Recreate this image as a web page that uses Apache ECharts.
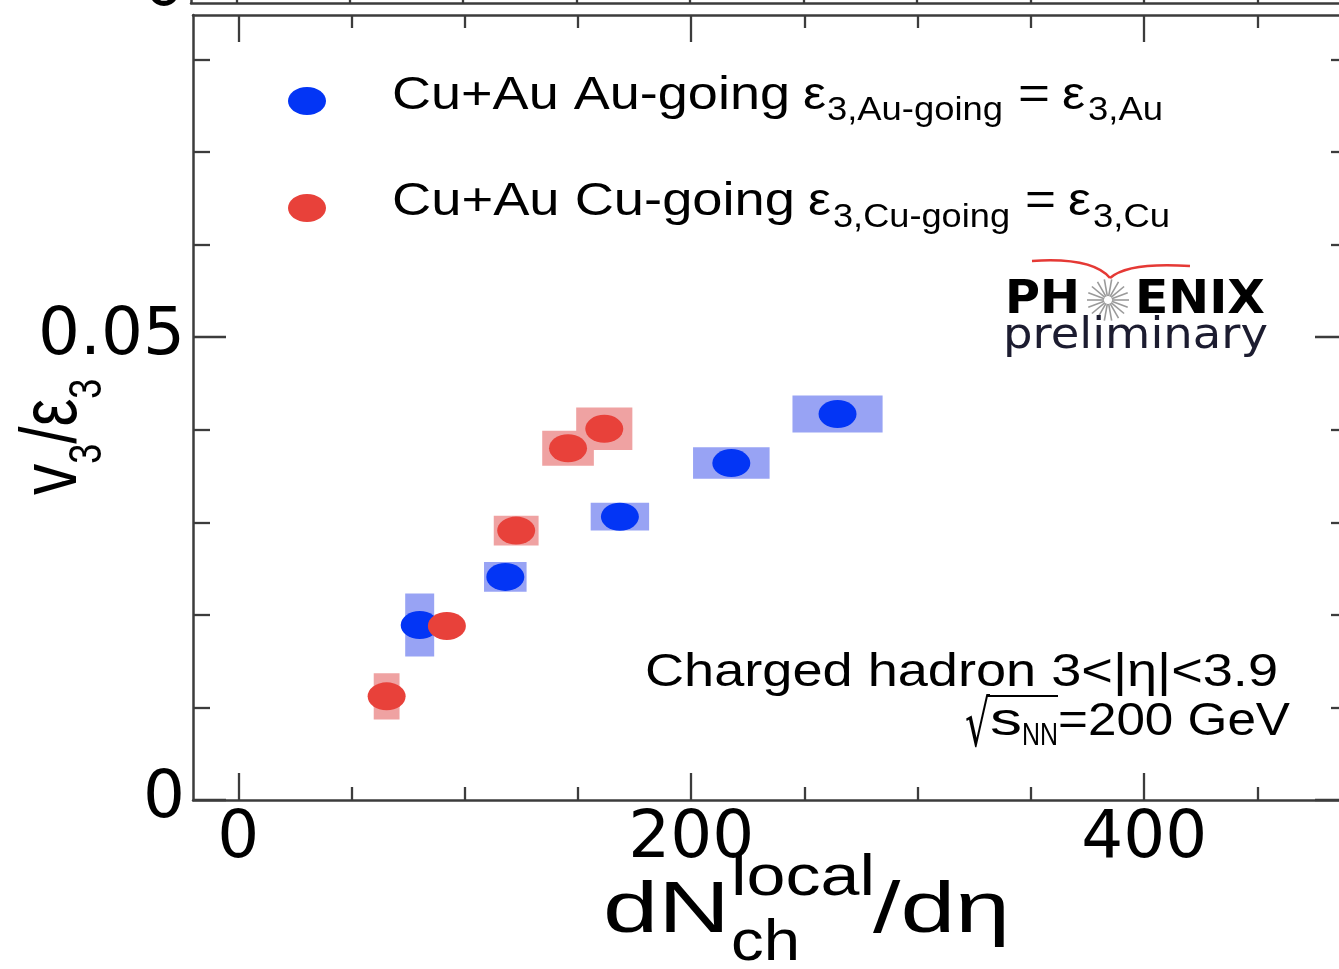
<!DOCTYPE html>
<html><head><meta charset="utf-8">
<script src="https://cdn.jsdelivr.net/npm/echarts@6/dist/echarts.min.js"></script>
<style>html,body{margin:0;padding:0;background:#fff}#c{width:1339px;height:969px}</style>
</head><body><div id="c"></div>
<script>
// ---- data ----
const auX    = [80.1, 117.9, 168.5, 217.7, 264.6];
const auY    = [0.0189, 0.0241, 0.0306, 0.0364, 0.0417];
const auXsys = [6.4, 9.4, 12.9, 16.9, 19.9];
const auYsys = [0.0034, 0.0016, 0.0015, 0.0017, 0.0020];
const cuX    = [65.5, 92.1, 122.7, 145.6, 161.6];
const cuY    = [0.0112, 0.0188, 0.0291, 0.0380, 0.0401];
const cuXsys = [5.7, 5.0, 9.9, 11.4, 12.4];
const cuYsys = [0.0025, 0.0008, 0.0016, 0.0019, 0.0023];
const xMajorTicks = [0, 200, 400];
const xMinorTicks = [50, 100, 150, 250, 300, 350, 450];
const yMajorTicks = [0, 0.05];
const yMinorTicks = [0.01, 0.02, 0.03, 0.04, 0.06, 0.07, 0.08];
const xRange = [-20, 490];
const yRange = [0, 0.0848];

const AXC = '#3c3c3c';
const BLUE = '#0335f5', RED = '#e8413a';
const BLUE_BOX = '#98a3f4', RED_BOX = '#efa2a2';

const mctx = document.createElement('canvas').getContext('2d');
function mw(text, size, family, weight) {
  mctx.font = (weight || 'normal') + ' ' + size + 'px ' + family;
  return mctx.measureText(text).width;
}
function fitText(text, left, right, y, size, family, weight, fill) {
  family = family || 'Liberation Sans';
  const w = mw(text, size, family, weight);
  return {type: 'text', x: left, y: y, scaleX: (right - left) / w, silent: true,
    style: {text: text, fontSize: size, fontFamily: family, fontWeight: weight || 'normal',
      fill: fill || '#000', align: 'left', verticalAlign: 'middle'}};
}
function plainText(text, x, y, size, family, weight, fill, align) {
  return {type: 'text', x: x, y: y, silent: true,
    style: {text: text, fontSize: size, fontFamily: family || 'Liberation Sans', fontWeight: weight || 'normal',
      fill: fill || '#000', align: align || 'left', verticalAlign: 'middle'}};
}

// y-axis title pieces (local frame, rotated)
function yTitle() {
  const F = 80, S = 46, fam = 'Liberation Sans';
  const kids = [];
  let x = 0;
  const main = (t) => { kids.push(plainText(t, x, -0.3465 * F, F, fam)); x += mw(t, F, fam); };
  const sub = (t) => { kids.push(plainText(t, x, 22 - 0.3465 * S, S, fam)); x += mw(t, S, fam); };
  main('v'); sub('3'); main('/'); main('ε'); sub('3');
  return {type: 'group', x: 82, y: 495, rotation: Math.PI / 2, scaleX: 0.78, children: kids};
}

function starburst(cx, cy, r, n) {
  const kids = [];
  for (let i = 0; i < n; i++) {
    const a = i * Math.PI * 2 / n;
    kids.push({type: 'line', silent: true, shape: {x1: cx + 4 * Math.cos(a), y1: cy + 4 * Math.sin(a), x2: cx + r * Math.cos(a), y2: cy + r * Math.sin(a)},
      style: {stroke: '#9a9a9a', lineWidth: 1.6}});
  }
  return kids;
}

const graphics = [
  {type: 'ellipse', shape: {cx: 307, cy: 101, rx: 19, ry: 14}, style: {fill: BLUE}, silent: true},
  {type: 'ellipse', shape: {cx: 307, cy: 208, rx: 19, ry: 14}, style: {fill: RED}, silent: true},
  fitText('Cu+Au Au-going', 392, 790, 96, 46),
  fitText('ε', 803, 826, 96, 46),
  fitText('3,Au-going', 827, 1003, 111, 33),
  fitText('=', 1018, 1050, 96, 46),
  fitText('ε', 1062, 1085, 96, 46),
  fitText('3,Au', 1088, 1163, 111, 33),
  fitText('Cu+Au Cu-going', 392, 795, 202, 46),
  fitText('ε', 808, 831, 202, 46),
  fitText('3,Cu-going', 833, 1010, 217.5, 33),
  fitText('=', 1025, 1056, 202, 46),
  fitText('ε', 1068, 1091, 202, 46),
  fitText('3,Cu', 1093, 1170, 217.5, 33),
  // PHENIX logo
  {type: 'bezierCurve', silent: true, shape: {x1: 1032, y1: 261, cpx1: 1092, cpy1: 257, x2: 1110, y2: 278}, style: {stroke: '#e53935', lineWidth: 2.5, fill: null}},
  {type: 'bezierCurve', silent: true, shape: {x1: 1110, y1: 278, cpx1: 1128, cpy1: 262, x2: 1190, y2: 266}, style: {stroke: '#e53935', lineWidth: 2.5, fill: null}},
  fitText('PH', 1005, 1080, 300.9, 47, 'DejaVu Sans', 'bold'),
  fitText('ENIX', 1135, 1265, 300.9, 47, 'DejaVu Sans', 'bold'),
  ...starburst(1108, 300, 21, 18),
  fitText('preliminary', 1003, 1268, 337, 42, 'DejaVu Sans', 'normal', '#1c1c30'),
  // annotations
  fitText('Charged hadron 3<|η|<3.9', 645, 1278, 673, 46),
  fitText('√', 965, 990, 729, 64, 'DejaVu Sans'),
  {type: 'line', silent: true, shape: {x1: 987, y1: 696, x2: 1058, y2: 696}, style: {stroke: '#000', lineWidth: 2}},
  fitText('s', 990, 1022, 722, 46),
  fitText('NN', 1022, 1058, 736, 31),
  fitText('=200 GeV', 1058, 1290, 722, 46),
  // x title
  fitText('dN', 603, 730, 912, 72),
  fitText('local', 731, 875, 879, 58),
  fitText('ch', 731, 800, 944, 58),
  fitText('/dη', 873, 1010, 912, 72),
  yTitle(),
  // piece of the panel above
  plainText('0', 185, -12.5, 66, 'DejaVu Sans', 'normal', '#000', 'right')
];

function boxItem(color) {
  return function (params, api) {
    const x = api.value(0), y = api.value(1), dx = api.value(2), dy = api.value(3);
    const p1 = api.coord([x - dx, y + dy]);
    const p2 = api.coord([x + dx, y - dy]);
    return {type: 'rect', shape: {x: p1[0], y: p1[1], width: p2[0] - p1[0], height: p2[1] - p1[1]}, style: {fill: color}};
  };
}

const lineStyle = {color: AXC, width: 2.5};
const tickStyle = {color: AXC, width: 2.3};
const labelStyle = {fontSize: 66, fontFamily: 'DejaVu Sans', color: '#000'};

function xAx(grid, pos, ticks, len, line, labels) {
  return {type: 'value', gridIndex: grid, position: pos, min: xRange[0], max: xRange[1],
    axisLine: {show: line, onZero: false, lineStyle: lineStyle},
    axisTick: {show: true, inside: true, length: len, customValues: ticks, lineStyle: tickStyle},
    axisLabel: labels ? Object.assign({show: true, customValues: ticks, margin: 7}, labelStyle) : {show: false},
    splitLine: {show: false}};
}
function yAx(grid, pos, ticks, len, line, labels) {
  return {type: 'value', gridIndex: grid, position: pos, min: yRange[0], max: yRange[1],
    axisLine: {show: line, onZero: false, lineStyle: lineStyle},
    axisTick: {show: true, inside: true, length: len, customValues: ticks, lineStyle: tickStyle},
    axisLabel: labels ? Object.assign({show: true, customValues: ticks, margin: 8, formatter: v => String(v)}, labelStyle) : {show: false},
    splitLine: {show: false}};
}

const chart = echarts.init(document.getElementById('c'), null, {renderer: 'canvas'});
chart.setOption({
  animation: false,
  backgroundColor: '#fff',
  grid: [
    {left: 193, top: 15, width: 1155, height: 785, outerBoundsMode: 'none'},
    {left: 191, top: -300, width: 1157, height: 303, outerBoundsMode: 'none'}
  ],
  xAxis: [
    xAx(0, 'bottom', xMajorTicks, 27, true, true),
    xAx(0, 'bottom', xMinorTicks, 13, false, false),
    xAx(0, 'top', xMajorTicks, 27, true, false),
    xAx(0, 'top', xMinorTicks, 13, false, false),
    xAx(1, 'bottom', xMajorTicks, 27, true, false),
    xAx(1, 'bottom', xMinorTicks, 13, false, false)
  ],
  yAxis: [
    yAx(0, 'left', yMajorTicks, 33, true, true),
    yAx(0, 'left', yMinorTicks, 17, false, false),
    yAx(0, 'right', yMajorTicks, 33, true, false),
    yAx(0, 'right', yMinorTicks, 17, false, false),
    {type: 'value', gridIndex: 1, position: 'left', min: 0, max: 1,
      axisLine: {show: true, onZero: false, lineStyle: lineStyle}, axisTick: {show: false}, axisLabel: {show: false}, splitLine: {show: false}}
  ],
  series: [
    {type: 'custom', name: 'Au-going sys', xAxisIndex: 0, yAxisIndex: 0, z: 2,
      data: auX.map((x, i) => [x, auY[i], auXsys[i], auYsys[i]]), encode: {x: 0, y: 1}, renderItem: boxItem(BLUE_BOX), silent: true},
    {type: 'custom', name: 'Cu-going sys', xAxisIndex: 0, yAxisIndex: 0, z: 2,
      data: cuX.map((x, i) => [x, cuY[i], cuXsys[i], cuYsys[i]]), encode: {x: 0, y: 1}, renderItem: boxItem(RED_BOX), silent: true},
    {type: 'scatter', name: 'Cu+Au Au-going', xAxisIndex: 0, yAxisIndex: 0, z: 3,
      data: auX.map((x, i) => [x, auY[i]]), symbol: 'circle', symbolSize: [38, 28], itemStyle: {color: BLUE, opacity: 1}},
    {type: 'scatter', name: 'Cu+Au Cu-going', xAxisIndex: 0, yAxisIndex: 0, z: 3,
      data: cuX.map((x, i) => [x, cuY[i]]), symbol: 'circle', symbolSize: [38, 28], itemStyle: {color: RED, opacity: 1}}
  ],
  graphic: graphics
});
</script>
</body></html>
